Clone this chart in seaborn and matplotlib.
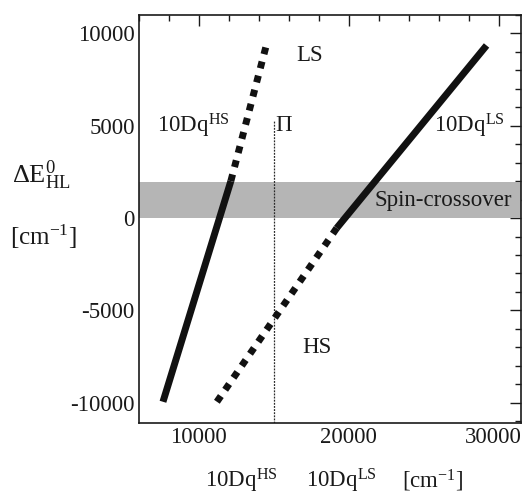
import matplotlib
matplotlib.use("Agg")
import matplotlib.pyplot as plt
import matplotlib.transforms as mtransforms
import seaborn as sns
import pandas as pd
from matplotlib.ticker import MultipleLocator

# ---- data ----
hs_solid_x = [7600, 12130]
hs_solid_y = [-9950, 2000]
hs_dot_x = [12130, 14530]
hs_dot_y = [2000, 9460]
ls_dot_x = [11200, 19200]
ls_dot_y = [-9950, -540]
ls_solid_x = [19200, 29200]
ls_solid_y = [-540, 9350]
pi_x = [15000, 15000]
pi_y = [-11100, 5300]
band_range = [0, 1950]
x_ticks = [10000, 20000, 30000]
y_ticks = [-10000, -5000, 0, 5000, 10000]

sns.set_theme(style="white")
plt.rcParams['font.family'] = ['Liberation Serif', 'DejaVu Serif']
plt.rcParams['mathtext.fontset'] = 'custom'
plt.rcParams['mathtext.rm'] = 'Liberation Serif'
plt.rcParams['mathtext.it'] = 'Liberation Serif:italic'
plt.rcParams['mathtext.bf'] = 'Liberation Serif:bold'

fig = plt.figure(figsize=(5.24, 4.95), dpi=100, facecolor='white')
ax = fig.add_axes([139/524, 1 - 423/495, (521-139)/524, (423-15)/495])
ax.set_facecolor('white')

ax.axhspan(band_range[0], band_range[1], color='#b5b5b5', lw=0, zorder=1)

def seg(x, y, style):
    df = pd.DataFrame({'x': x, 'y': y})
    common = dict(data=df, x='x', y='y', ax=ax, estimator=None, sort=False)
    if style == 'solid':
        sns.lineplot(**common, color='#111111', lw=5,
                     solid_capstyle='butt', zorder=3)
    elif style == 'dots':
        sns.lineplot(**common, color='#111111', lw=5,
                     linestyle=(0, (1, 1.1)), dash_capstyle='butt', zorder=3)
    else:
        sns.lineplot(**common, color='#2a2a2a', lw=0.9,
                     linestyle=(0, (1.5, 1)), zorder=2)

seg(hs_solid_x, hs_solid_y, 'solid')
seg(hs_dot_x, hs_dot_y, 'dots')
seg(ls_dot_x, ls_dot_y, 'dots')
seg(ls_solid_x, ls_solid_y, 'solid')
seg(pi_x, pi_y, 'thin')

ax.set_xlim(6000, 31500)
ax.set_ylim(-11100, 11000)
ax.set_xticks(x_ticks)
ax.set_yticks(y_ticks)
ax.set_xticklabels([str(v) for v in x_ticks])
ax.set_yticklabels([str(v) for v in y_ticks])
ax.xaxis.set_minor_locator(MultipleLocator(2000))
ax.yaxis.set_minor_locator(MultipleLocator(1000))
ax.set_xlabel('')
ax.set_ylabel('')
ax.tick_params(which='both', direction='in', top=True, right=True,
               labelsize=16.5, colors='#1a1a1a', width=1)
ax.tick_params(which='major', length=8, pad=3)
ax.tick_params(which='minor', length=4)
last = ax.xaxis.get_major_ticks()[-1].label1
last.set_transform(last.get_transform() +
                   mtransforms.ScaledTranslation(-0.05, 0, fig.dpi_scale_trans))
for s in ax.spines.values():
    s.set_color('#1a1a1a')
    s.set_linewidth(1.2)

fs = 16.5
ax.text(17400, 8800, 'LS', fontsize=fs, ha='center', va='center', color='#1a1a1a')
ax.text(17900, -7000, 'HS', fontsize=fs, ha='center', va='center', color='#1a1a1a')
ax.text(7200, 5000, r'10Dq$^{\mathrm{HS}}$', fontsize=fs, ha='left', va='center', color='#1a1a1a')
ax.text(25700, 5000, r'10Dq$^{\mathrm{LS}}$', fontsize=fs, ha='left', va='center', color='#1a1a1a')
ax.text(15100, 5000, r'$\Pi$', fontsize=fs, ha='left', va='center', color='#1a1a1a')
ax.text(21700, 950, 'Spin-crossover', fontsize=fs, ha='left', va='center', color='#1a1a1a')

fig.text(12/524, 1 - 175/495, r'$\Delta\mathrm{E}^{0}_{\mathrm{HL}}$', fontsize=19,
         ha='left', va='center', color='#1a1a1a')
fig.text(10/524, 1 - 237/495, r'[cm$^{-1}$]', fontsize=18,
         ha='left', va='center', color='#1a1a1a')
fig.text(241/524, 1 - 481/495, r'10Dq$^{\mathrm{HS}}$', fontsize=16.5,
         ha='center', va='center', color='#1a1a1a')
fig.text(341/524, 1 - 481/495, r'10Dq$^{\mathrm{LS}}$', fontsize=16.5,
         ha='center', va='center', color='#1a1a1a')
fig.text(433/524, 1 - 481/495, r'[cm$^{\mathrm{-1}}$]', fontsize=16.5,
         ha='center', va='center', color='#1a1a1a')

fig.savefig('out.png', dpi=100, facecolor='white')
